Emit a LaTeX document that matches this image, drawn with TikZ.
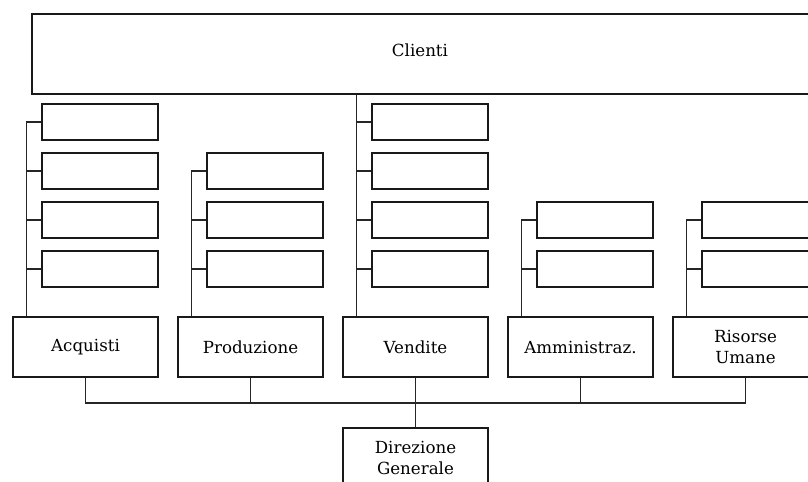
\documentclass[tikz,border=0pt]{standalone}
\usepackage{fontspec}
\setmainfont{DejaVu Serif}
\usetikzlibrary{positioning,calc}
\tikzset{
  box/.style={draw=black!90,line width=1.8pt,fill=white,align=center,
    font=\fontsize{12.5}{15.75}\selectfont,inner sep=0pt},
  dept/.style={box,minimum width=108.75pt,minimum height=45pt},
  sub/.style={box,minimum width=87pt,minimum height=27pt},
  link/.style={draw=black!85,line width=0.8pt}
}
\begin{document}
\begin{tikzpicture}[x=0.75pt,y=-0.75pt]
  \useasboundingbox (0,0) rectangle (808,482);
  \clip (0,0) rectangle (808,482);
  % top and bottom boxes
  \node[box,minimum width=591pt,minimum height=60pt,
    label={[font=\fontsize{12.5}{15.75}\selectfont,xshift=-4.5pt,yshift=3pt]center:Clienti}]
    (clienti) at (426,54) {};
  \node[dept] (dir) at (415.5,458) {Direzione\\Generale};
  % departments
  \foreach \name/\lab/\x in {acq/Acquisti/85.5,prod/Produzione/250.5,
      vend/Vendite/415.5,amm/Amministraz./580.5,ris/{Risorse\\Umane}/745.5} {
    \node[dept] (\name) at (\x,347) {\lab};
    \coordinate (\name-sp) at ([xshift=11.25pt]\name.north west);
  }
  % sub units
  \foreach \name/\x/\first in {acq/85.5/1,prod/250.5/2,vend/415.5/1,amm/580.5/3,ris/745.5/3} {
    \foreach \r in {\first,...,4} {
      \node[sub] (\name-\r) at (\x+14.5,73+49*\r) {};
      \draw[link] (\name-sp) |- (\name-\r.west);
    }
  }
  \draw[link] (vend-sp) -- (vend-sp |- clienti.south);
  % links to the general direction
  \coordinate (bus) at (415.5,403);
  \draw[link] (acq.south) |- (bus) -| (ris.south);
  \foreach \name in {prod,amm}
    \draw[link] (\name.south) -- (\name.south |- bus);
  \draw[link] (vend.south) -- (dir.north);
\end{tikzpicture}
\end{document}
